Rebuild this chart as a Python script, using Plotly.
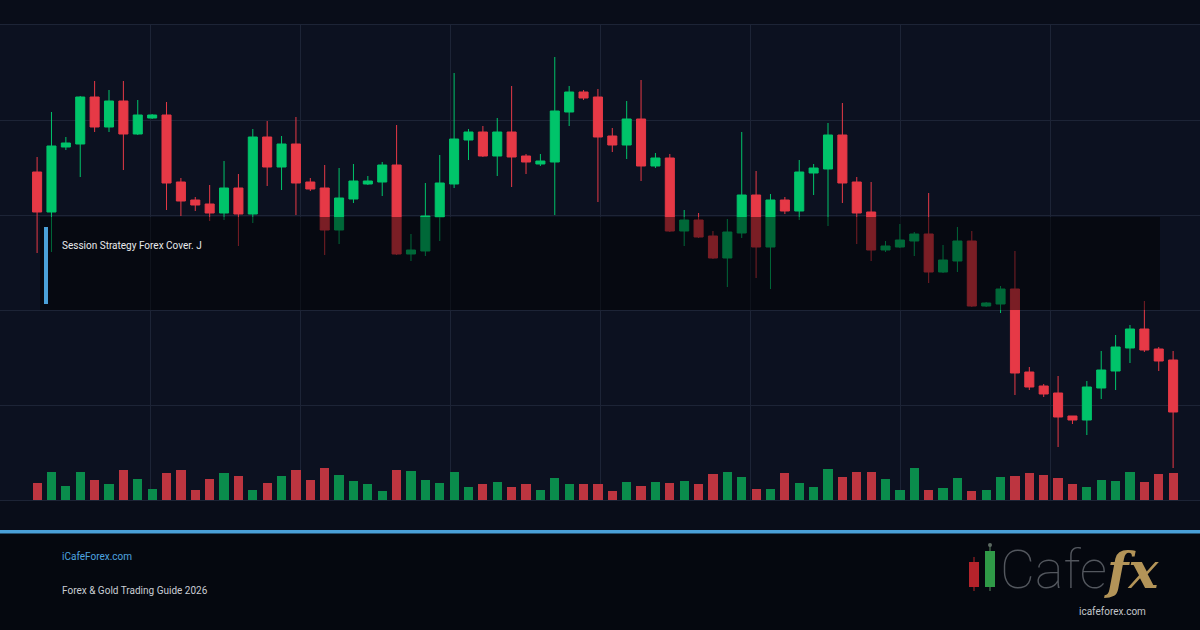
import plotly.graph_objects as go

# ---------------- data ----------------
bar_index = list(range(80))

open_ = [132.8, 128.8, 135.3, 135.6, 140.3, 137.3, 139.9, 136.6, 138.2, 138.5,
         131.8, 130.0, 129.6, 128.7, 131.2, 128.6, 136.3, 133.3, 135.6, 131.8,
         131.2, 127.0, 130.1, 131.6, 131.8, 133.5, 124.6, 124.9, 128.3, 131.6,
         136.0, 136.8, 134.4, 136.8, 134.4, 133.6, 133.8, 138.8, 140.8, 140.3,
         136.4, 135.5, 138.1, 133.4, 134.2, 126.9, 128.0, 126.4, 124.2, 126.7,
         130.5, 125.3, 130.0, 128.9, 132.7, 133.1, 136.5, 131.8, 128.8, 125.0,
         125.3, 125.9, 126.6, 122.8, 123.9, 125.9, 119.4, 119.6, 121.1, 112.8,
         111.4, 110.7, 108.4, 108.0, 111.2, 112.9, 115.2, 117.1, 115.1, 114.0]

high = [134.3, 138.8, 136.3, 140.4, 141.9, 141.0, 141.9, 140.0, 138.6, 139.8,
        132.2, 130.3, 131.5, 133.9, 132.6, 137.1, 137.9, 136.4, 138.3, 132.2,
        133.5, 133.2, 133.6, 132.4, 133.8, 137.5, 126.6, 131.7, 134.5, 142.7,
        137.1, 137.4, 138.2, 141.4, 134.6, 134.6, 144.3, 141.4, 141.0, 141.1,
        137.2, 139.9, 142.0, 134.7, 134.6, 129.0, 128.7, 126.9, 128.1, 136.8,
        132.9, 130.6, 130.3, 134.0, 133.6, 137.7, 139.7, 132.3, 131.8, 125.9,
        127.6, 126.8, 130.7, 125.5, 127.3, 126.9, 119.8, 121.4, 124.9, 113.3,
        111.6, 112.4, 108.4, 111.9, 114.9, 116.5, 117.5, 119.9, 115.3, 114.9]

low = [124.7, 124.8, 135.0, 132.3, 136.8, 136.8, 133.0, 136.5, 138.1, 129.0,
       128.4, 128.9, 127.9, 128.0, 125.4, 127.7, 131.4, 131.0, 128.5, 130.9,
       124.5, 125.6, 129.7, 131.5, 130.4, 124.5, 123.9, 124.4, 125.9, 131.2,
       134.0, 134.3, 132.4, 131.3, 132.6, 133.4, 128.5, 137.4, 140.0, 129.8,
       134.8, 134.1, 131.9, 133.2, 126.8, 125.4, 126.2, 124.1, 121.3, 126.2,
       122.2, 121.1, 128.6, 128.0, 130.5, 127.4, 129.7, 125.6, 123.9, 124.8,
       125.2, 124.4, 121.7, 122.7, 122.8, 119.3, 119.3, 118.7, 110.5, 111.0,
       110.3, 105.3, 107.6, 106.5, 110.1, 111.0, 113.7, 114.8, 112.9, 103.2]

close = [128.8, 135.4, 135.7, 140.3, 137.3, 139.9, 136.6, 138.5, 138.5, 131.7,
         129.9, 129.5, 128.7, 131.2, 128.6, 136.3, 133.3, 135.6, 131.7, 131.1,
         127.0, 130.2, 131.9, 131.9, 133.5, 124.6, 125.0, 128.4, 131.7, 136.1,
         136.8, 134.4, 136.8, 134.3, 133.8, 133.9, 138.9, 140.8, 140.2, 136.3,
         135.5, 138.1, 133.4, 134.2, 126.9, 128.0, 126.3, 124.2, 126.8, 130.5,
         125.3, 130.0, 128.9, 132.8, 133.2, 136.5, 131.7, 128.7, 125.0, 125.4,
         126.0, 126.6, 122.8, 124.0, 125.9, 119.4, 119.7, 121.1, 112.7, 111.3,
         110.6, 108.3, 108.0, 111.3, 113.0, 115.3, 117.1, 115.0, 113.9, 108.8]

volume = [1670, 2830, 1430, 2830, 2030, 1570, 2970, 2130, 1130, 2730,
          2970, 1030, 2130, 2730, 2370, 1030, 1730, 2430, 2970, 2030,
          3170, 2530, 1930, 1630, 930, 3030, 2930, 2030, 1730, 2830,
          1330, 1630, 1830, 1330, 1630, 1030, 2230, 1630, 1630, 1630,
          930, 1830, 1430, 1830, 1730, 1930, 1630, 2630, 2830, 2330,
          1130, 1130, 2730, 1730, 1330, 3130, 2330, 2830, 2830, 2130,
          1030, 3230, 1030, 1230, 2230, 930, 1030, 2330, 2430, 2730,
          2530, 2230, 1630, 1330, 2030, 1930, 2830, 1830, 2630, 2730]

overlay_label = "Session Strategy Forex Cover. J"
site_label = "iCafeForex.com"
guide_label = "Forex & Gold Trading Guide 2026"
logo_word = "Cafe"
logo_fx = "fx"
logo_url = "icafeforex.com"

# ---------------- style ----------------
W, H = 1200, 630
TOP, BOT = 25, 500
GREEN = "#00c46a"
RED = "#e63946"
GREEN_V = "#0a8c4c"
RED_V = "#bd3540"
GRID = "#1d2436"
BLUE = "#4aa0d8"


def px(x):
    return x / W


def py(y):
    return (BOT - y) / (BOT - TOP)


fig = go.Figure()
fig.add_trace(go.Candlestick(
    x=bar_index, open=open_, high=high, low=low, close=close,
    increasing=dict(line=dict(color=GREEN, width=1), fillcolor=GREEN),
    decreasing=dict(line=dict(color=RED, width=1), fillcolor=RED),
    whiskerwidth=0, showlegend=False, hoverinfo="skip",
))
vol_colors = [GREEN_V if c >= o else RED_V for o, c in zip(open_, close)]
fig.add_trace(go.Bar(
    x=bar_index, y=volume, yaxis="y2", width=0.64,
    marker=dict(color=vol_colors, line=dict(width=0)),
    showlegend=False, hoverinfo="skip",
))

shapes = []
# footer background
shapes.append(dict(type="rect", xref="paper", yref="paper", x0=0, x1=1,
                   y0=py(630), y1=py(533), fillcolor="#05080f", line=dict(width=0),
                   layer="below"))
# blue divider
shapes.append(dict(type="rect", xref="paper", yref="paper", x0=0, x1=1,
                   y0=py(533.5), y1=py(530), fillcolor=BLUE, line=dict(width=0)))
# dark overlay box
shapes.append(dict(type="rect", xref="paper", yref="paper", x0=px(40), x1=px(1160),
                   y0=py(310), y1=py(217), fillcolor="rgba(0,0,0,0.47)",
                   line=dict(width=0), layer="above"))
# blue accent bar
shapes.append(dict(type="rect", xref="paper", yref="paper", x0=px(44), x1=px(48),
                   y0=py(304), y1=py(227), fillcolor=BLUE, line=dict(width=0),
                   layer="above"))
# logo candles
shapes.append(dict(type="line", xref="paper", yref="paper", x0=px(974), x1=px(974),
                   y0=py(591), y1=py(557), line=dict(color="#7a1a1f", width=1.5)))
shapes.append(dict(type="rect", xref="paper", yref="paper", x0=px(969), x1=px(979),
                   y0=py(587), y1=py(562), fillcolor="#b5232b", line=dict(width=0)))
shapes.append(dict(type="line", xref="paper", yref="paper", x0=px(990), x1=px(990),
                   y0=py(591), y1=py(546), line=dict(color="#3d5a45", width=1.5)))
shapes.append(dict(type="circle", xref="paper", yref="paper", x0=px(988), x1=px(992),
                   y0=py(547), y1=py(543), fillcolor="#5d6a62", line=dict(width=0)))
shapes.append(dict(type="rect", xref="paper", yref="paper", x0=px(985), x1=px(995),
                   y0=py(587), y1=py(551), fillcolor="#2f9a47", line=dict(width=0)))

annotations = [
    dict(text=overlay_label, x=px(60), y=py(245), xref="paper", yref="paper",
         xanchor="left", yanchor="middle", showarrow=False,
         font=dict(family="Roboto", size=10, color="#e8e9ec")),
    dict(text=site_label, x=px(60), y=py(556), xref="paper", yref="paper",
         xanchor="left", yanchor="middle", showarrow=False,
         font=dict(family="Roboto", size=10, color="#4ea5e0")),
    dict(text=guide_label, x=px(60), y=py(590), xref="paper", yref="paper",
         xanchor="left", yanchor="middle", showarrow=False,
         font=dict(family="Roboto", size=10, color="#c9cdd4")),
    dict(text=logo_word, x=px(998), y=py(569), xref="paper", yref="paper",
         xanchor="left", yanchor="middle", showarrow=False,
         font=dict(family="Roboto", size=54, color="#53575e", weight=100)),
    dict(text="<i><b>" + logo_fx + "</b></i>", x=px(1132), y=py(570), xref="paper",
         yref="paper", xanchor="center", yanchor="middle", showarrow=False,
         font=dict(family="DejaVu Serif", size=50, color="#b39458")),
    dict(text=logo_url, x=px(1112), y=py(611), xref="paper", yref="paper",
         xanchor="center", yanchor="middle", showarrow=False,
         font=dict(family="Roboto", size=10, color="#c3c6cb")),
]

x_lo = -37.1 / 14.38
x_hi = (W - 37.1) / 14.38

fig.update_layout(
    width=W, height=H,
    margin=dict(l=0, r=0, t=TOP, b=H - BOT, pad=0),
    paper_bgcolor="#090d19",
    plot_bgcolor="#0c1120",
    boxgap=0.1,
    bargap=0,
    hovermode=False,
    xaxis=dict(range=[x_lo, x_hi], showgrid=True, gridcolor=GRID, gridwidth=1,
               tick0=x_lo + 150 / 14.38, dtick=150 / 14.38, tickmode="linear",
               showticklabels=False, ticks="", zeroline=False,
               showline=True, mirror=True, linecolor=GRID, linewidth=1,
               rangeslider=dict(visible=False), fixedrange=True),
    yaxis=dict(range=[100, 147.5], showgrid=True, gridcolor=GRID, gridwidth=1,
               tick0=100, dtick=9.5, tickmode="linear",
               showticklabels=False, ticks="", zeroline=False,
               showline=True, mirror=True, linecolor=GRID, linewidth=1,
               fixedrange=True),
    yaxis2=dict(range=[0, 47500], overlaying="y", visible=False, fixedrange=True),
    shapes=shapes,
    annotations=annotations,
)

fig.write_html("out.html", config=dict(displayModeBar=False, staticPlot=True))
